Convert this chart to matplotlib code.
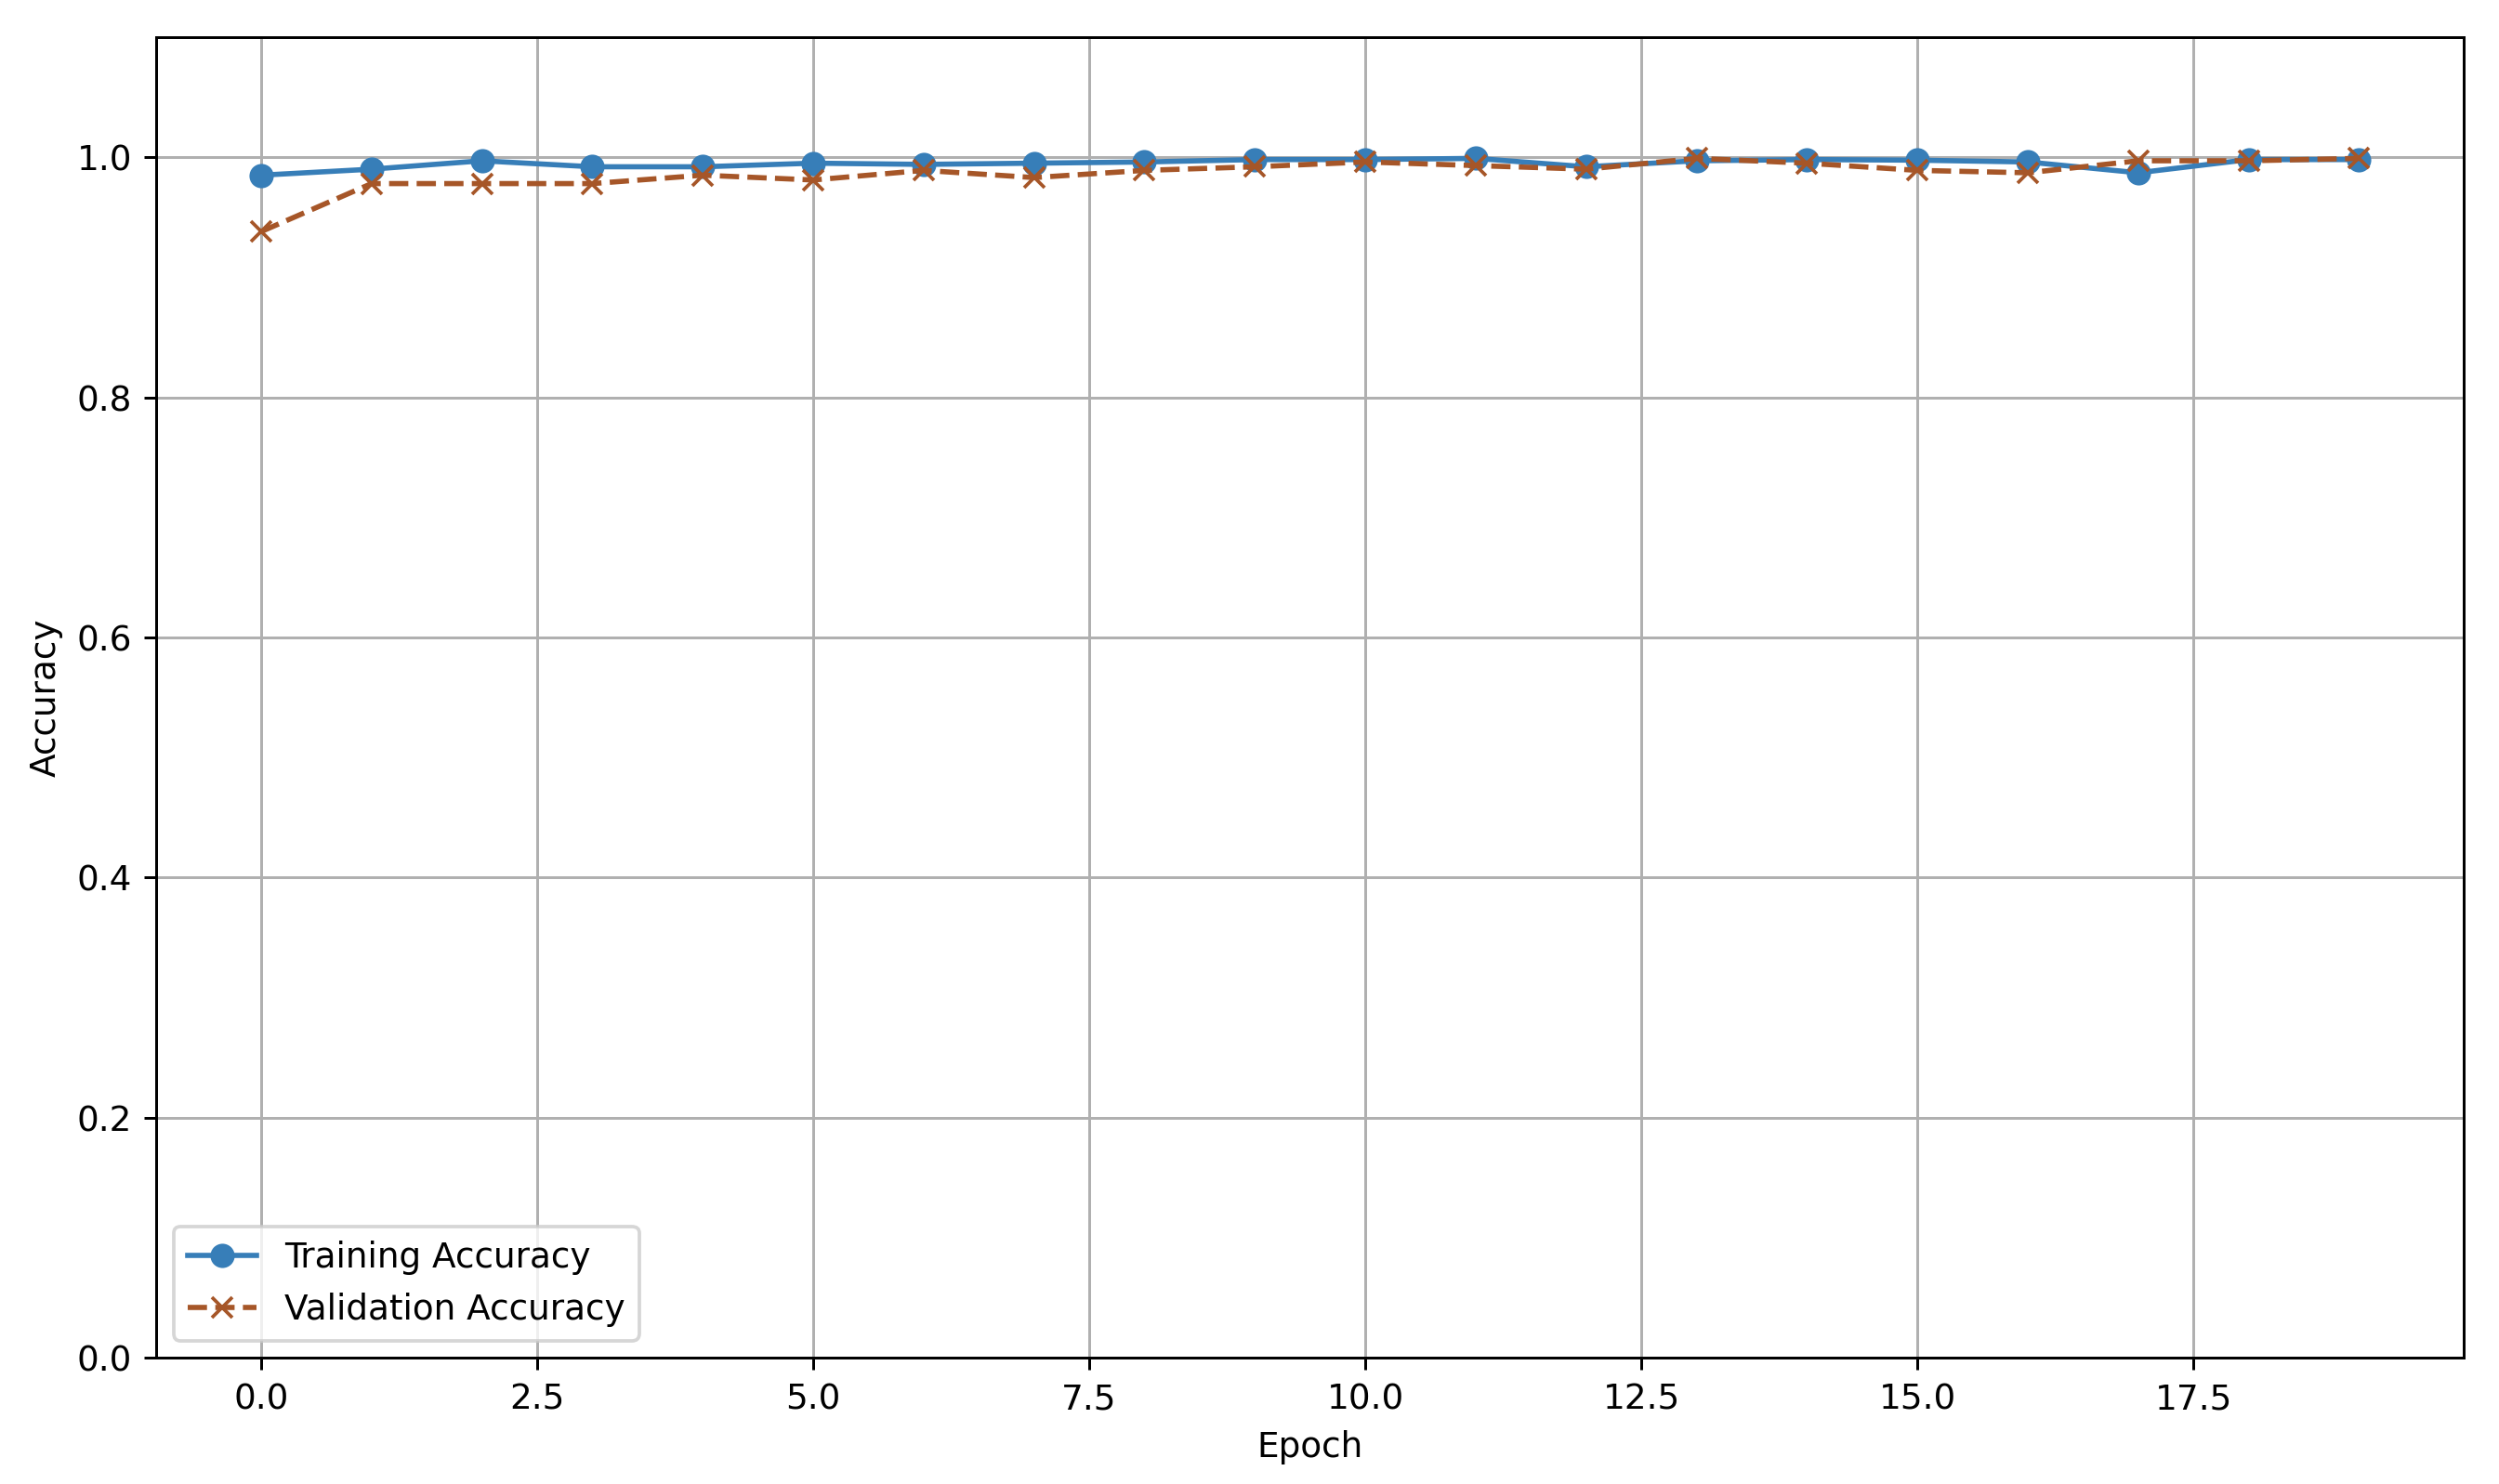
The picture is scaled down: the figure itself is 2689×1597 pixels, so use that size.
import matplotlib
matplotlib.use('Agg')
import matplotlib.pyplot as plt
import numpy as np

# accuracy per epoch
epochs = list(range(20))
train_acc = [0.985, 0.990, 0.997, 0.992, 0.992, 0.995, 0.994, 0.995, 0.996, 0.998,
             0.998, 0.999, 0.992, 0.997, 0.998, 0.9975, 0.996, 0.987, 0.998, 0.998]
val_acc = [0.938, 0.978, 0.978, 0.978, 0.985, 0.981, 0.989, 0.983, 0.989, 0.992,
           0.996, 0.993, 0.990, 0.999, 0.995, 0.989, 0.987, 0.997, 0.997, 0.999]

DPI = 268.9
fig = plt.figure(figsize=(2689 / DPI, 1597 / DPI), dpi=DPI)
ax = fig.add_axes([0.0625, 0.085, 0.9235, 0.89])

ax.plot(epochs, train_acc, color='#377eb8', marker='o',
        linestyle='-', label='Training Accuracy')
ax.plot(epochs, val_acc, color='#a65628', marker='x',
        linestyle='--', label='Validation Accuracy')

ax.set_ylim(0, 1.1)
ax.set_xlabel('Epoch')
ax.set_ylabel('Accuracy')
ax.grid(True)
ax.legend(loc='lower left')

fig.savefig('out.png', dpi=DPI)
